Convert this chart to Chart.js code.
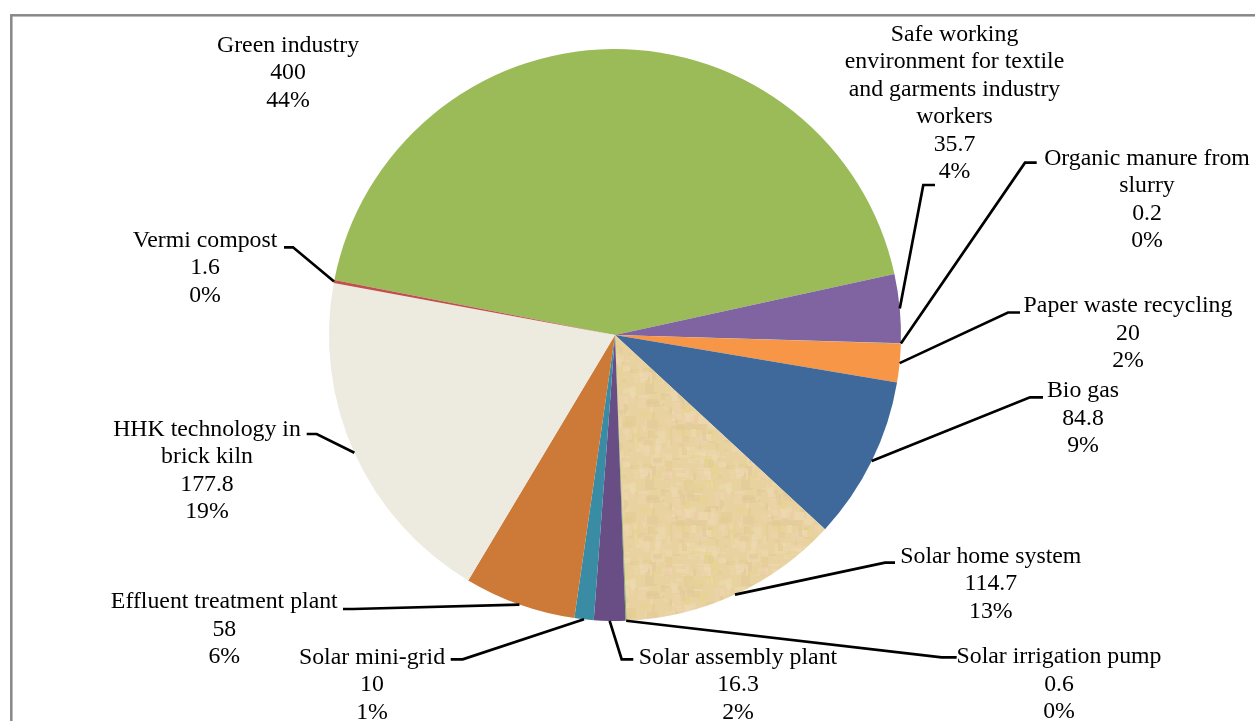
<!DOCTYPE html>
<html>
<head>
<meta charset="utf-8">
<script src="https://cdn.jsdelivr.net/npm/chart.js@4"></script>
<style>
html,body{margin:0;padding:0;background:#fff;overflow:hidden;}
canvas{display:block;}
</style>
</head>
<body>
<canvas id="c" width="1255" height="721"></canvas>
<script>
// ---- data ----
const categories = [
  'Green industry',
  'Safe working\nenvironment for textile\nand garments industry\nworkers',
  'Organic manure from\nslurry',
  'Paper waste recycling',
  'Bio gas',
  'Solar home system',
  'Solar irrigation pump',
  'Solar assembly plant',
  'Solar mini-grid',
  'Effluent treatment plant',
  'HHK technology in\nbrick kiln',
  'Vermi compost'
];
const values = [400, 35.7, 0.2, 20, 84.8, 114.7, 0.6, 16.3, 10, 58, 177.8, 1.6];
const percentLabels = ['44%', '4%', '0%', '2%', '9%', '13%', '0%', '2%', '1%', '6%', '19%', '0%'];

// ---- styles / layout ----
function parchment() {
  const c = document.createElement('canvas');
  c.width = 96; c.height = 96;
  const g = c.getContext('2d');
  g.fillStyle = '#E8D3A0';
  g.fillRect(0, 0, 96, 96);
  const shades = ['#EBD9AA', '#E3CB93', '#EFDAB4', '#E6D48C', '#ECD2AC', '#E1CA96', '#EDD7AE'];
  let s = 7;
  function h() { s = (s * 1103515245 + 12345) & 0x7fffffff; return s / 0x7fffffff; }
  for (let i = 0; i < 240; i++) {
    g.fillStyle = shades[Math.floor(h() * shades.length)];
    g.globalAlpha = 0.6;
    const x = Math.floor(h() * 96), y = Math.floor(h() * 96);
    const w = 2 + Math.floor(h() * 10), hh = 2 + Math.floor(h() * 10);
    g.fillRect(x, y, w, hh);
  }
  g.globalAlpha = 1;
  return g.createPattern(c, 'repeat');
}
const sliceColors = ['#9BBB59', '#8064A2', '#4BACC6', '#F79646', '#3F699A', parchment(),
  '#8EB45A', '#684E85', '#3A8CA5', '#CD7A38', '#EDEAE0', '#C0504D'];

// label layout: centre x, first baseline, horizontal leader segment (x1 near label -> x2), y
const labelLayout = [
  {cx: 288, by: 51.7, lead: null},
  {cx: 954.5, by: 41, lead: [935, 923.3, 185]},
  {cx: 1147, by: 165, lead: [1036.7, 1025, 162.7]},
  {cx: 1128, by: 312.3, lead: [1020, 1008, 312.5]},
  {cx: 1083, by: 397.3, lead: [1043, 1030, 397.3]},
  {cx: 990.8, by: 562.7, lead: [895, 885, 562.7]},
  {cx: 1059, by: 663.3, lead: [956.7, 941.7, 657.3]},
  {cx: 738, by: 664, lead: [633.3, 621.7, 659.3]},
  {cx: 372, by: 664, lead: [450.7, 462.7, 659.3]},
  {cx: 224.3, by: 608.3, lead: [343, 353, 609]},
  {cx: 207, by: 436, lead: [306.7, 316.7, 434]},
  {cx: 205, by: 246.7, lead: [284, 293, 247.3]}
];
const FONT = "23.8px 'Liberation Serif', 'Times New Roman', serif";
const LINE_H = 27.4;

const framePlugin = {
  id: 'frame',
  beforeDraw(chart) {
    const ctx = chart.ctx;
    ctx.save();
    ctx.fillStyle = '#fff';
    ctx.fillRect(0, 0, chart.width, chart.height);
    ctx.strokeStyle = '#888888';
    ctx.lineWidth = 2.5;
    ctx.strokeRect(11.3, 15.3, 3000, 3000);
    ctx.restore();
  }
};

const labelPlugin = {
  id: 'pieLabels',
  afterDatasetsDraw(chart) {
    const ctx = chart.ctx;
    const meta = chart.getDatasetMeta(0);
    ctx.save();
    // leader lines
    ctx.strokeStyle = '#000';
    ctx.lineWidth = 2.7;
    ctx.lineJoin = 'miter';
    meta.data.forEach((arc, i) => {
      const L = labelLayout[i];
      if (!L.lead) return;
      const p = arc.getProps(['x', 'y', 'startAngle', 'endAngle', 'outerRadius'], true);
      const a = (p.startAngle + p.endAngle) / 2;
      const px = p.x + Math.cos(a) * p.outerRadius;
      const py = p.y + Math.sin(a) * p.outerRadius;
      ctx.beginPath();
      ctx.moveTo(L.lead[0], L.lead[2]);
      ctx.lineTo(L.lead[1], L.lead[2]);
      ctx.lineTo(px, py);
      ctx.stroke();
    });
    // texts
    ctx.fillStyle = '#000';
    ctx.font = FONT;
    ctx.textAlign = 'center';
    ctx.textBaseline = 'alphabetic';
    categories.forEach((name, i) => {
      const L = labelLayout[i];
      const lines = name.split('\n').concat([String(values[i]), percentLabels[i]]);
      lines.forEach((t, k) => ctx.fillText(t, L.cx, L.by + k * LINE_H));
    });
    ctx.restore();
  }
};

new Chart(document.getElementById('c'), {
  type: 'pie',
  data: {
    labels: categories,
    datasets: [{
      data: values,
      backgroundColor: sliceColors,
      borderWidth: 0,
      hoverOffset: 0
    }]
  },
  options: {
    responsive: false,
    animation: false,
    rotation: -78.9,
    layout: {padding: {left: 329, right: 354, top: 49, bottom: 100}},
    plugins: {legend: {display: false}, tooltip: {enabled: false}}
  },
  plugins: [framePlugin, labelPlugin]
});
</script>
</body>
</html>
